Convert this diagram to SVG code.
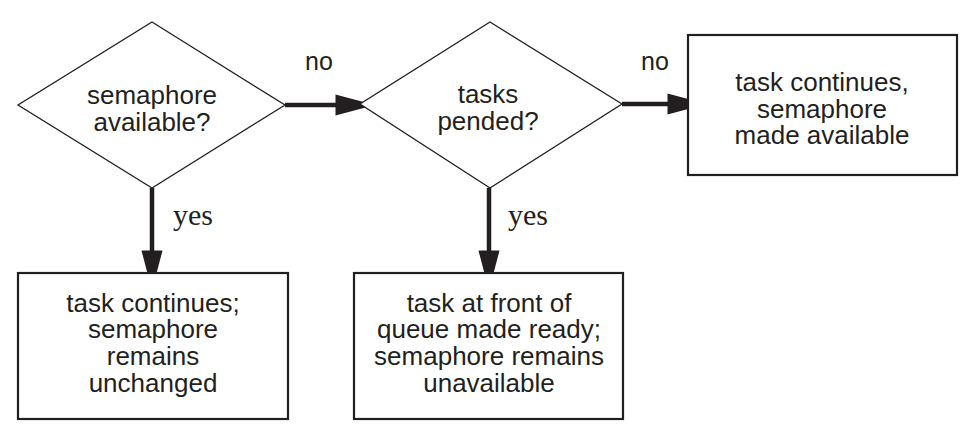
<svg xmlns="http://www.w3.org/2000/svg" width="977" height="446" viewBox="0 0 977 446">
<style>
.bg{fill:#fff}
.box{fill:#fff;stroke:#231f20;stroke-width:2.2}
.dia{fill:#fff;stroke:#231f20;stroke-width:1.3}
.t{font-family:"Liberation Sans",Arial,sans-serif;font-size:26px;fill:#231f20;text-anchor:middle}
.lbl{font-family:"Liberation Sans",Arial,sans-serif;font-size:25px;fill:#231f20}
.yes{font-family:"Liberation Serif","Times New Roman",serif;font-size:30px;fill:#231f20}
.c{stroke:#231f20;stroke-width:4.5;fill:none}
</style>
<defs>
<marker id="ah" markerUnits="userSpaceOnUse" markerWidth="40" markerHeight="22" refX="10" refY="10" orient="auto" viewBox="0 0 38 20">
<path d="M0,0 L38,10 L0,20 z" fill="#231f20"/>
</marker>
</defs>
<rect class="bg" width="977" height="446"/>
<g id="connectors">
<line class="c" x1="285" y1="105" x2="346" y2="105" marker-end="url(#ah)"/>
<line class="c" x1="622" y1="104" x2="678" y2="104" marker-end="url(#ah)"/>
<line class="c" x1="152" y1="188" x2="152" y2="261" marker-end="url(#ah)"/>
<line class="c" x1="489" y1="188" x2="489" y2="261" marker-end="url(#ah)"/>
<text class="lbl" x="305" y="70">no</text>
<text class="lbl" x="641" y="70">no</text>
<text class="yes" x="173" y="225">yes</text>
<text class="yes" x="508" y="225">yes</text>
</g>
<g id="n_sem_available">
<polygon class="dia" points="152,22 285,105 152,188 18,105"/>
<text class="t" x="152" y="104">semaphore</text>
<text class="t" x="152" y="131">available?</text>
</g>
<g id="n_tasks_pended">
<polygon class="dia" points="490,22 622,104 490,188 360,104"/>
<text class="t" x="488" y="103">tasks</text>
<text class="t" x="488" y="130">pended?</text>
</g>
<g id="n_made_available">
<rect class="box" x="688" y="35" width="269" height="140"/>
<text class="t" x="822" y="91">task continues,</text>
<text class="t" x="822" y="118">semaphore</text>
<text class="t" x="822" y="144">made available</text>
</g>
<g id="n_unchanged">
<rect class="box" x="18" y="273" width="270" height="146"/>
<text class="t" x="153" y="312">task continues;</text>
<text class="t" x="153" y="338">semaphore</text>
<text class="t" x="153" y="365">remains</text>
<text class="t" x="153" y="392">unchanged</text>
</g>
<g id="n_made_ready">
<rect class="box" x="354" y="273" width="269" height="146"/>
<text class="t" x="489" y="312">task at front of</text>
<text class="t" x="489" y="338">queue made ready;</text>
<text class="t" x="489" y="365">semaphore remains</text>
<text class="t" x="489" y="392">unavailable</text>
</g>
</svg>
